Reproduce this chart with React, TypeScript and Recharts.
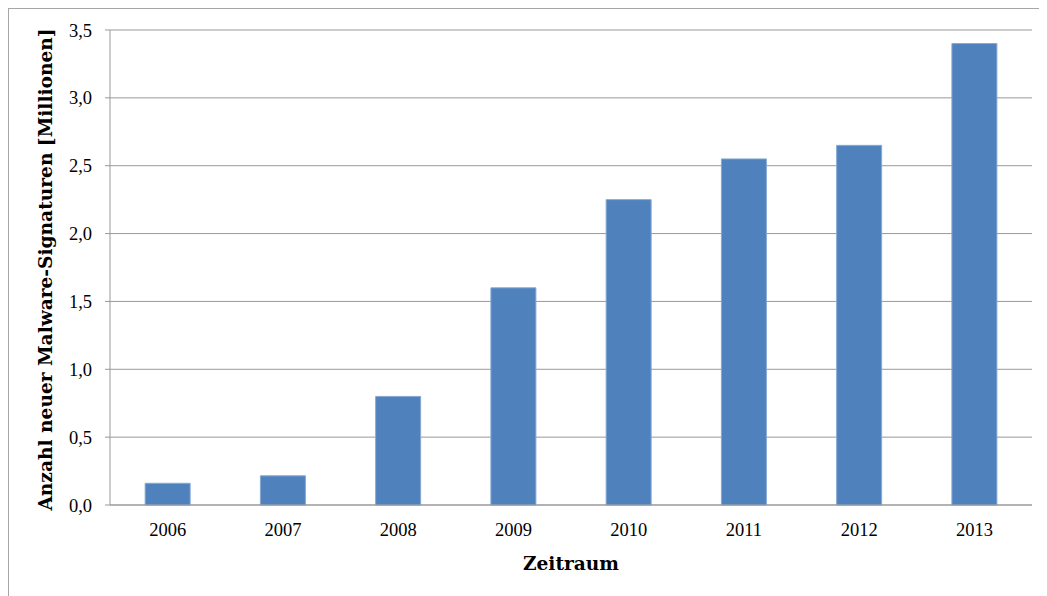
import React from "react";
import { BarChart, Bar, XAxis, YAxis, CartesianGrid } from "recharts";

const years = ["2006", "2007", "2008", "2009", "2010", "2011", "2012", "2013"];
const signatures = [0.16, 0.215, 0.8, 1.6, 2.25, 2.55, 2.65, 3.4];
const yTicks = [0, 0.5, 1, 1.5, 2, 2.5, 3, 3.5];
const xTitle = "Zeitraum";
const yTitle = "Anzahl neuer Malware-Signaturen [Millionen]";

const data = years.map((y, i) => ({ year: y, value: signatures[i] }));

const tickFont = { fontFamily: "'Liberation Serif', serif", fontSize: 18.5, fill: "#000" };
const titleFont = "'DejaVu Serif', serif";

const YTitle = (props: any) => {
  const vb = props.viewBox || {};
  const cy = vb.y + vb.height / 2 + 2;
  const cx = 36;
  return (
    <text
      x={cx}
      y={cy}
      transform={`rotate(-90, ${cx}, ${cy})`}
      textAnchor="middle"
      dominantBaseline="central"
      fontFamily={titleFont}
      fontWeight="bold"
      fontSize={18.6}
      fill="#000"
    >
      {yTitle}
    </text>
  );
};

const XTitle = (props: any) => {
  const vb = props.viewBox || {};
  return (
    <text
      x={vb.x + vb.width / 2}
      y={vb.y + 58}
      textAnchor="middle"
      dominantBaseline="central"
      fontFamily={titleFont}
      fontWeight="bold"
      fontSize={18.6}
      fill="#000"
    >
      {xTitle}
    </text>
  );
};

export default function App() {
  return (
    <div
      style={{
        width: 1038,
        height: 587,
        borderTop: "1px solid #a6a6a6",
        borderLeft: "1px solid #a6a6a6",
        background: "#fff",
      }}
    >
      <BarChart
        width={1038}
        height={587}
        data={data}
        margin={{ top: 21, right: 15, left: 41, bottom: 31 }}
        barCategoryGap="30.5%"
      >
        <CartesianGrid vertical={false} stroke="#999" strokeWidth={1} />
        <XAxis
          dataKey="year"
          height={60}
          tickLine={false}
          axisLine={{ stroke: "#999" }}
          tick={tickFont}
          tickMargin={12}
          label={<XTitle />}
        />
        <YAxis
          width={60}
          domain={[0, 3.5]}
          ticks={yTicks}
          interval={0}
          tickFormatter={(v: number) => v.toFixed(1).replace(".", ",")}
          axisLine={{ stroke: "#999" }}
          tickLine={{ stroke: "#999" }}
          tickSize={5}
          tickMargin={13}
          tick={tickFont}
          label={<YTitle />}
        />
        <Bar dataKey="value" fill="#4F81BD" stroke="#86A8D4" strokeWidth={1} isAnimationActive={false} />
      </BarChart>
    </div>
  );
}
